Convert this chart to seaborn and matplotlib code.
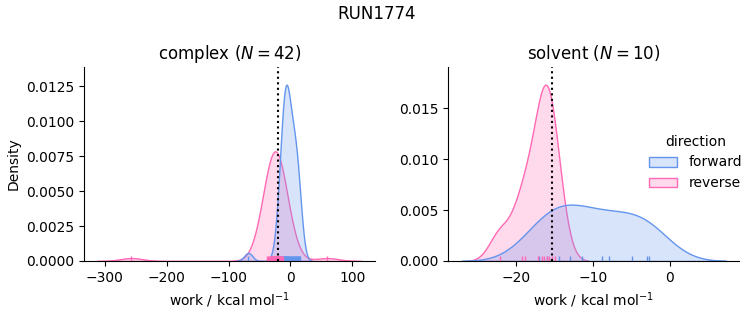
import numpy as np
import pandas as pd
import matplotlib
matplotlib.use("Agg")
import matplotlib.pyplot as plt
import seaborn as sns

run_name = "RUN1774"
phases = ["complex", "solvent"]
directions = ["forward", "reverse"]

complex_forward = [-68.0,
                   -21.0, -18.6, -16.6, -15.0, -13.8, -12.8, -12.0, -11.3, -10.7, -10.1,
                   -9.6, -9.1, -8.6, -8.1, -7.6, -7.1, -6.6, -6.0, -5.4, -4.7,
                   -4.0, -3.2, -2.4, -1.5, -0.6, 0.4, 1.4, 2.4, 3.5, 4.5,
                   5.6, 6.6, 7.7, 8.7, 9.7, 10.7, 11.7, 12.6, 13.5, 14.3, 15.2]
complex_reverse = [-257.0, 60.0,
                   -38.0, -36.3, -34.8, -33.6, -32.6, -31.7, -30.9, -30.2, -29.6, -29.0,
                   -28.5, -28.0, -27.5, -27.0, -26.6, -26.1, -25.7, -25.3, -24.9, -24.5,
                   -24.1, -23.7, -23.3, -22.9, -22.5, -22.1, -21.6, -21.2, -20.7, -20.2,
                   -19.7, -19.1, -18.5, -17.8, -17.1, -16.3, -15.4, -14.4, -13.3, -12.0]
solvent_forward = [-17.1, -16.0, -14.4, -13.0, -11.5, -8.9, -7.9, -4.9, -3.0, -2.7]
solvent_reverse = [-22.1, -19.3, -18.9, -17.2, -16.7, -16.4, -16.0, -15.7, -15.3, -14.9]

dg_estimates = {"complex": -20.2, "solvent": -15.4}
palette = {"forward": "cornflowerblue", "reverse": "hotpink"}

values = {
    ("complex", "forward"): complex_forward,
    ("complex", "reverse"): complex_reverse,
    ("solvent", "forward"): solvent_forward,
    ("solvent", "reverse"): solvent_reverse,
}
rows = []
for (ph, d), vals in values.items():
    for v in vals:
        rows.append({"phase": ph, "direction": d, "work": v})
df = pd.DataFrame(rows)

g = sns.displot(data=df, x="work", hue="direction", col="phase", kind="kde",
                fill=True, rug=True, palette=palette, hue_order=directions,
                col_order=phases,
                facet_kws=dict(sharex=False, sharey=False), height=3, aspect=1.0)

fig = g.figure
fig.set_size_inches(7.53, 3.25)
fig.set_dpi(100)
fig.subplots_adjust(left=84/753, right=739.3/753, top=1-67/325, bottom=1-261/325,
                    wspace=0.253)

for ax, ph in zip(g.axes.flat, phases):
    n = len(values[(ph, "forward")])
    ax.set_title(f"{ph} ($N = {n}$)", fontsize=12)
    ax.axvline(dg_estimates[ph], color="black", linestyle=":", linewidth=1.5)
    ax.set_xlabel("work / kcal mol$^{-1}$")

g.axes.flat[0].set_ylabel("Density")
g.axes.flat[1].set_ylabel("")

sns.move_legend(g, "center right", bbox_to_anchor=(1.002, 0.5), frameon=False)

fig.suptitle(run_name, fontsize=12, y=0.985)
fig.savefig("out.png", dpi=100)
